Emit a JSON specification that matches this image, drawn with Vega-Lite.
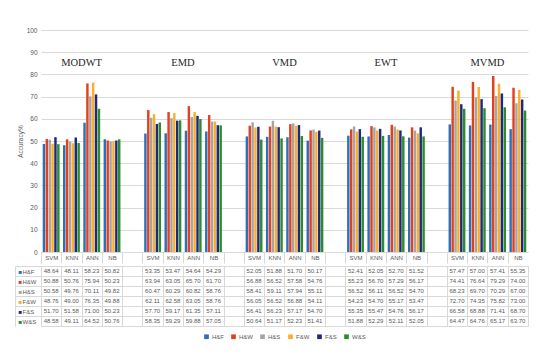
{
  "$schema": "https://vega.github.io/schema/vega-lite/v6.json",
  "background": "white",
  "padding": {"left": 14, "top": 27, "right": 12, "bottom": 4},
  "spacing": 0,
  "config": {
    "view": {"stroke": null},
    "font": "Liberation Sans",
    "legend": {"layout": {"bottom": {"anchor": "middle"}}}
  },
  "datasets": {
    "acc": [
      {"method": "MODWT", "clf": "SVM", "series": "H&F", "acc": 48.64},
      {"method": "MODWT", "clf": "SVM", "series": "H&W", "acc": 50.88},
      {"method": "MODWT", "clf": "SVM", "series": "H&S", "acc": 50.58},
      {"method": "MODWT", "clf": "SVM", "series": "F&W", "acc": 48.76},
      {"method": "MODWT", "clf": "SVM", "series": "F&S", "acc": 51.70},
      {"method": "MODWT", "clf": "SVM", "series": "W&S", "acc": 48.58},
      {"method": "MODWT", "clf": "KNN", "series": "H&F", "acc": 48.11},
      {"method": "MODWT", "clf": "KNN", "series": "H&W", "acc": 50.76},
      {"method": "MODWT", "clf": "KNN", "series": "H&S", "acc": 49.76},
      {"method": "MODWT", "clf": "KNN", "series": "F&W", "acc": 49.00},
      {"method": "MODWT", "clf": "KNN", "series": "F&S", "acc": 51.58},
      {"method": "MODWT", "clf": "KNN", "series": "W&S", "acc": 49.11},
      {"method": "MODWT", "clf": "ANN", "series": "H&F", "acc": 58.23},
      {"method": "MODWT", "clf": "ANN", "series": "H&W", "acc": 75.94},
      {"method": "MODWT", "clf": "ANN", "series": "H&S", "acc": 70.11},
      {"method": "MODWT", "clf": "ANN", "series": "F&W", "acc": 76.35},
      {"method": "MODWT", "clf": "ANN", "series": "F&S", "acc": 71.00},
      {"method": "MODWT", "clf": "ANN", "series": "W&S", "acc": 64.52},
      {"method": "MODWT", "clf": "NB", "series": "H&F", "acc": 50.82},
      {"method": "MODWT", "clf": "NB", "series": "H&W", "acc": 50.23},
      {"method": "MODWT", "clf": "NB", "series": "H&S", "acc": 49.82},
      {"method": "MODWT", "clf": "NB", "series": "F&W", "acc": 49.88},
      {"method": "MODWT", "clf": "NB", "series": "F&S", "acc": 50.23},
      {"method": "MODWT", "clf": "NB", "series": "W&S", "acc": 50.76},
      {"method": "EMD", "clf": "SVM", "series": "H&F", "acc": 53.35},
      {"method": "EMD", "clf": "SVM", "series": "H&W", "acc": 63.94},
      {"method": "EMD", "clf": "SVM", "series": "H&S", "acc": 60.47},
      {"method": "EMD", "clf": "SVM", "series": "F&W", "acc": 62.11},
      {"method": "EMD", "clf": "SVM", "series": "F&S", "acc": 57.70},
      {"method": "EMD", "clf": "SVM", "series": "W&S", "acc": 58.35},
      {"method": "EMD", "clf": "KNN", "series": "H&F", "acc": 53.47},
      {"method": "EMD", "clf": "KNN", "series": "H&W", "acc": 63.05},
      {"method": "EMD", "clf": "KNN", "series": "H&S", "acc": 60.29},
      {"method": "EMD", "clf": "KNN", "series": "F&W", "acc": 62.58},
      {"method": "EMD", "clf": "KNN", "series": "F&S", "acc": 59.17},
      {"method": "EMD", "clf": "KNN", "series": "W&S", "acc": 59.29},
      {"method": "EMD", "clf": "ANN", "series": "H&F", "acc": 54.64},
      {"method": "EMD", "clf": "ANN", "series": "H&W", "acc": 65.70},
      {"method": "EMD", "clf": "ANN", "series": "H&S", "acc": 60.82},
      {"method": "EMD", "clf": "ANN", "series": "F&W", "acc": 63.05},
      {"method": "EMD", "clf": "ANN", "series": "F&S", "acc": 61.35},
      {"method": "EMD", "clf": "ANN", "series": "W&S", "acc": 59.88},
      {"method": "EMD", "clf": "NB", "series": "H&F", "acc": 54.29},
      {"method": "EMD", "clf": "NB", "series": "H&W", "acc": 61.70},
      {"method": "EMD", "clf": "NB", "series": "H&S", "acc": 58.76},
      {"method": "EMD", "clf": "NB", "series": "F&W", "acc": 58.76},
      {"method": "EMD", "clf": "NB", "series": "F&S", "acc": 57.11},
      {"method": "EMD", "clf": "NB", "series": "W&S", "acc": 57.05},
      {"method": "VMD", "clf": "SVM", "series": "H&F", "acc": 52.05},
      {"method": "VMD", "clf": "SVM", "series": "H&W", "acc": 56.88},
      {"method": "VMD", "clf": "SVM", "series": "H&S", "acc": 58.41},
      {"method": "VMD", "clf": "SVM", "series": "F&W", "acc": 56.05},
      {"method": "VMD", "clf": "SVM", "series": "F&S", "acc": 56.41},
      {"method": "VMD", "clf": "SVM", "series": "W&S", "acc": 50.64},
      {"method": "VMD", "clf": "KNN", "series": "H&F", "acc": 51.88},
      {"method": "VMD", "clf": "KNN", "series": "H&W", "acc": 56.52},
      {"method": "VMD", "clf": "KNN", "series": "H&S", "acc": 59.11},
      {"method": "VMD", "clf": "KNN", "series": "F&W", "acc": 56.52},
      {"method": "VMD", "clf": "KNN", "series": "F&S", "acc": 56.23},
      {"method": "VMD", "clf": "KNN", "series": "W&S", "acc": 51.17},
      {"method": "VMD", "clf": "ANN", "series": "H&F", "acc": 51.70},
      {"method": "VMD", "clf": "ANN", "series": "H&W", "acc": 57.58},
      {"method": "VMD", "clf": "ANN", "series": "H&S", "acc": 57.94},
      {"method": "VMD", "clf": "ANN", "series": "F&W", "acc": 56.88},
      {"method": "VMD", "clf": "ANN", "series": "F&S", "acc": 57.17},
      {"method": "VMD", "clf": "ANN", "series": "W&S", "acc": 52.23},
      {"method": "VMD", "clf": "NB", "series": "H&F", "acc": 50.17},
      {"method": "VMD", "clf": "NB", "series": "H&W", "acc": 54.76},
      {"method": "VMD", "clf": "NB", "series": "H&S", "acc": 55.11},
      {"method": "VMD", "clf": "NB", "series": "F&W", "acc": 54.11},
      {"method": "VMD", "clf": "NB", "series": "F&S", "acc": 54.70},
      {"method": "VMD", "clf": "NB", "series": "W&S", "acc": 51.41},
      {"method": "EWT", "clf": "SVM", "series": "H&F", "acc": 52.41},
      {"method": "EWT", "clf": "SVM", "series": "H&W", "acc": 55.23},
      {"method": "EWT", "clf": "SVM", "series": "H&S", "acc": 56.52},
      {"method": "EWT", "clf": "SVM", "series": "F&W", "acc": 54.23},
      {"method": "EWT", "clf": "SVM", "series": "F&S", "acc": 55.35},
      {"method": "EWT", "clf": "SVM", "series": "W&S", "acc": 51.88},
      {"method": "EWT", "clf": "KNN", "series": "H&F", "acc": 52.05},
      {"method": "EWT", "clf": "KNN", "series": "H&W", "acc": 56.70},
      {"method": "EWT", "clf": "KNN", "series": "H&S", "acc": 56.11},
      {"method": "EWT", "clf": "KNN", "series": "F&W", "acc": 54.70},
      {"method": "EWT", "clf": "KNN", "series": "F&S", "acc": 55.47},
      {"method": "EWT", "clf": "KNN", "series": "W&S", "acc": 52.29},
      {"method": "EWT", "clf": "ANN", "series": "H&F", "acc": 52.70},
      {"method": "EWT", "clf": "ANN", "series": "H&W", "acc": 57.29},
      {"method": "EWT", "clf": "ANN", "series": "H&S", "acc": 56.52},
      {"method": "EWT", "clf": "ANN", "series": "F&W", "acc": 55.17},
      {"method": "EWT", "clf": "ANN", "series": "F&S", "acc": 54.76},
      {"method": "EWT", "clf": "ANN", "series": "W&S", "acc": 52.11},
      {"method": "EWT", "clf": "NB", "series": "H&F", "acc": 51.52},
      {"method": "EWT", "clf": "NB", "series": "H&W", "acc": 56.17},
      {"method": "EWT", "clf": "NB", "series": "H&S", "acc": 54.70},
      {"method": "EWT", "clf": "NB", "series": "F&W", "acc": 53.47},
      {"method": "EWT", "clf": "NB", "series": "F&S", "acc": 56.17},
      {"method": "EWT", "clf": "NB", "series": "W&S", "acc": 52.05},
      {"method": "MVMD", "clf": "SVM", "series": "H&F", "acc": 57.47},
      {"method": "MVMD", "clf": "SVM", "series": "H&W", "acc": 74.41},
      {"method": "MVMD", "clf": "SVM", "series": "H&S", "acc": 68.23},
      {"method": "MVMD", "clf": "SVM", "series": "F&W", "acc": 72.70},
      {"method": "MVMD", "clf": "SVM", "series": "F&S", "acc": 66.58},
      {"method": "MVMD", "clf": "SVM", "series": "W&S", "acc": 64.47},
      {"method": "MVMD", "clf": "KNN", "series": "H&F", "acc": 57.00},
      {"method": "MVMD", "clf": "KNN", "series": "H&W", "acc": 76.64},
      {"method": "MVMD", "clf": "KNN", "series": "H&S", "acc": 69.70},
      {"method": "MVMD", "clf": "KNN", "series": "F&W", "acc": 74.35},
      {"method": "MVMD", "clf": "KNN", "series": "F&S", "acc": 68.88},
      {"method": "MVMD", "clf": "KNN", "series": "W&S", "acc": 64.76},
      {"method": "MVMD", "clf": "ANN", "series": "H&F", "acc": 57.41},
      {"method": "MVMD", "clf": "ANN", "series": "H&W", "acc": 79.29},
      {"method": "MVMD", "clf": "ANN", "series": "H&S", "acc": 70.29},
      {"method": "MVMD", "clf": "ANN", "series": "F&W", "acc": 75.82},
      {"method": "MVMD", "clf": "ANN", "series": "F&S", "acc": 71.41},
      {"method": "MVMD", "clf": "ANN", "series": "W&S", "acc": 65.17},
      {"method": "MVMD", "clf": "NB", "series": "H&F", "acc": 55.35},
      {"method": "MVMD", "clf": "NB", "series": "H&W", "acc": 74.00},
      {"method": "MVMD", "clf": "NB", "series": "H&S", "acc": 67.00},
      {"method": "MVMD", "clf": "NB", "series": "F&W", "acc": 73.00},
      {"method": "MVMD", "clf": "NB", "series": "F&S", "acc": 68.70},
      {"method": "MVMD", "clf": "NB", "series": "W&S", "acc": 63.70}
    ],
    "groups": [
      {"method": "MODWT"},
      {"method": "EMD"},
      {"method": "VMD"},
      {"method": "EWT"},
      {"method": "MVMD"}
    ]
  },
  "vconcat": [
    {
      "width": 487,
      "height": 222,
      "layer": [
        {
          "data": {"name": "acc"},
          "transform": [{"calculate": "datum.method + ' ' + datum.clf", "as": "slot"}],
          "mark": {"type": "bar"},
          "encoding": {
            "x": {
              "field": "slot",
              "type": "nominal",
              "scale": {
                "domain": ["MODWT SVM", "MODWT KNN", "MODWT ANN", "MODWT NB", "gap1", "EMD SVM", "EMD KNN", "EMD ANN", "EMD NB", "gap2", "VMD SVM", "VMD KNN", "VMD ANN", "VMD NB", "gap3", "EWT SVM", "EWT KNN", "EWT ANN", "EWT NB", "gap4", "MVMD SVM", "MVMD KNN", "MVMD ANN", "MVMD NB"],
                "paddingInner": 0,
                "paddingOuter": 0
              },
              "axis": {
                "title": null,
                "labelExpr": "indexof(datum.value, ' ') > 0 ? split(datum.value, ' ')[1] : ''",
                "labelAngle": 0,
                "labelFontSize": 6,
                "labelColor": "#595959",
                "labelOverlap": false,
                "tickOffset": -10.146,
                "labelOffset": 10.146,
                "labelPadding": -5.5,
                "labelBaseline": "middle",
                "tickSize": 11,
                "tickColor": "#d9d9d9",
                "domainColor": "#d9d9d9",
                "grid": false
              }
            },
            "xOffset": {
              "field": "series",
              "type": "nominal",
              "scale": {"domain": ["H&F", "H&W", "H&S", "F&W", "F&S", "W&S"], "paddingInner": 0.15, "paddingOuter": 0.6}
            },
            "y": {
              "field": "acc",
              "type": "quantitative",
              "scale": {"domain": [0, 100]},
              "axis": {
                "values": [0, 10, 20, 30, 40, 50, 60, 70, 80, 90, 100],
                "title": "Accuracy%",
                "titleFontSize": 6.5,
                "titleFontWeight": "normal",
                "titleColor": "#595959",
                "titlePadding": 3,
                "labelFontSize": 6.5,
                "labelColor": "#595959",
                "labelPadding": 4,
                "ticks": false,
                "domain": false,
                "grid": true,
                "gridColor": "#d9d9d9"
              }
            },
            "color": {
              "field": "series",
              "type": "nominal",
              "scale": {
                "domain": ["H&F", "H&W", "H&S", "F&W", "F&S", "W&S"],
                "range": ["#2F6EBA", "#E2411D", "#A5A5A5", "#FBAE2B", "#1B2A80", "#2C8C2C"]
              },
              "legend": {
                "title": null,
                "orient": "bottom",
                "direction": "horizontal",
                "symbolType": "square",
                "symbolSize": 22,
                "labelFontSize": 6,
                "labelColor": "#595959",
                "labelOffset": 2,
                "columnPadding": 6,
                "offset": 6
              }
            }
          }
        },
        {
          "data": {"name": "groups"},
          "transform": [{"calculate": "datum.method + ' KNN'", "as": "slot"}],
          "mark": {"type": "text", "font": "Liberation Serif", "fontSize": 10.5, "color": "#262626", "baseline": "middle"},
          "encoding": {
            "x": {
              "field": "slot",
              "type": "nominal",
              "bandPosition": 1,
              "scale": {
                "domain": ["MODWT SVM", "MODWT KNN", "MODWT ANN", "MODWT NB", "gap1", "EMD SVM", "EMD KNN", "EMD ANN", "EMD NB", "gap2", "VMD SVM", "VMD KNN", "VMD ANN", "VMD NB", "gap3", "EWT SVM", "EWT KNN", "EWT ANN", "EWT NB", "gap4", "MVMD SVM", "MVMD KNN", "MVMD ANN", "MVMD NB"],
                "paddingInner": 0,
                "paddingOuter": 0
              }
            },
            "y": {
              "datum": 85,
              "type": "quantitative",
              "axis": {
                "values": [0, 10, 20, 30, 40, 50, 60, 70, 80, 90, 100],
                "title": "Accuracy%",
                "titleFontSize": 6.5,
                "titleFontWeight": "normal",
                "titleColor": "#595959",
                "titlePadding": 3,
                "labelFontSize": 6.5,
                "labelColor": "#595959",
                "labelPadding": 4,
                "ticks": false,
                "domain": false,
                "grid": true,
                "gridColor": "#d9d9d9"
              }
            },
            "text": {"field": "method"}
          }
        }
      ]
    },
    {
      "width": 487,
      "height": 60,
      "view": {"stroke": "#d9d9d9"},
      "data": {"name": "acc"},
      "transform": [{"calculate": "datum.method + ' ' + datum.clf", "as": "slot"}],
      "layer": [
        {
          "mark": {"type": "text", "fontSize": 6, "color": "#595959"},
          "encoding": {
            "x": {
              "field": "slot",
              "type": "nominal",
              "scale": {
                "domain": ["MODWT SVM", "MODWT KNN", "MODWT ANN", "MODWT NB", "gap1", "EMD SVM", "EMD KNN", "EMD ANN", "EMD NB", "gap2", "VMD SVM", "VMD KNN", "VMD ANN", "VMD NB", "gap3", "EWT SVM", "EWT KNN", "EWT ANN", "EWT NB", "gap4", "MVMD SVM", "MVMD KNN", "MVMD ANN", "MVMD NB"],
                "paddingInner": 0,
                "paddingOuter": 0
              },
              "axis": {"title": null, "labels": false, "ticks": false, "domain": false, "grid": true, "tickOffset": -10.146, "gridColor": "#d9d9d9"}
            },
            "y": {
              "field": "series",
              "type": "nominal",
              "scale": {"domain": ["H&F", "H&W", "H&S", "F&W", "F&S", "W&S"], "paddingInner": 0, "paddingOuter": 0},
              "axis": {
                "orient": "left",
                "title": null,
                "tickOffset": -5,
                "labelOffset": 5,
                "labelFontSize": 6,
                "labelColor": "#595959",
                "labelAlign": "left",
                "labelBaseline": "middle",
                "labelPadding": -7,
                "tickSize": 26,
                "tickColor": "#d9d9d9",
                "domain": false,
                "grid": true,
                "gridColor": "#d9d9d9"
              }
            },
            "text": {"field": "acc", "type": "quantitative", "format": ".2f"}
          }
        },
        {
          "mark": {"type": "text", "opacity": 0},
          "encoding": {
            "y": {
              "field": "series",
              "type": "nominal",
              "axis": {
                "orient": "left",
                "offset": 26,
                "title": null,
                "labelExpr": "'■'",
                "labelFontSize": 6,
                "labelColor": {"expr": "datum.value === 'H&F' ? '#2F6EBA' : datum.value === 'H&W' ? '#E2411D' : datum.value === 'H&S' ? '#A5A5A5' : datum.value === 'F&W' ? '#FBAE2B' : datum.value === 'F&S' ? '#1B2A80' : '#2C8C2C'"},
                "labelAlign": "left",
                "labelBaseline": "middle",
                "labelPadding": -3,
                "ticks": false,
                "domain": true,
                "domainColor": "#d9d9d9",
                "grid": false
              }
            },
            "text": {"value": ""}
          }
        }
      ],
      "resolve": {"axis": {"y": "independent"}}
    }
  ]
}
